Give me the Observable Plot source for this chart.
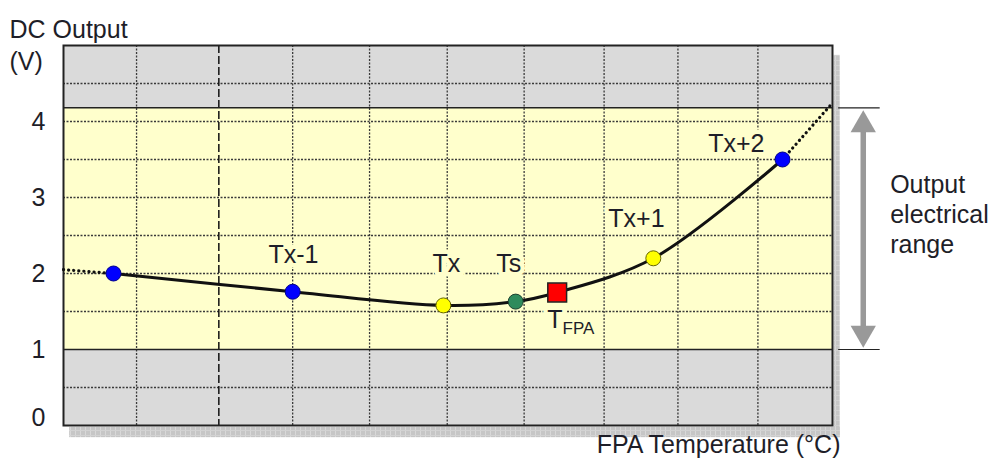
<!DOCTYPE html>
<html>
<head>
<meta charset="utf-8">
<script src="https://cdn.jsdelivr.net/npm/d3@7"></script>
<script src="https://cdn.jsdelivr.net/npm/@observablehq/plot@0.6"></script>
<style>
  html, body { margin: 0; padding: 0; background: #fff; }
  #chart { width: 995px; height: 465px; }
  svg { font-family: "Liberation Sans", Arial, sans-serif; }
</style>
</head>
<body>
<div id="chart"></div>
<script>
// ---- data ----
const temps = [0.65, 2.98, 4.94, 5.88, 6.42, 7.67, 9.35];
const volts = [2.00, 1.76, 1.58, 1.63, 1.75, 2.20, 3.50];
const kinds = ["blue", "blue", "yellow", "green", "red", "yellow", "blue"];

const leftExtX = [0, 0.65];
const leftExtY = [2.05, 2.00];
const rightExtX = [9.35, 9.97];
const rightExtY = [3.50, 4.21];

const labelText = ["Tx-1", "Tx", "Ts", "Tx+1", "Tx+2"];
const labelX = [2.99, 4.98, 5.79, 7.45, 8.75];
const labelY = [2.25, 2.12, 2.12, 2.72, 3.70];

const yTicks = [1, 2, 3, 4];
const yGrid = [0.5, 1.5, 2, 2.5, 3, 3.5, 4, 4.5];
const rangeLimits = [1, 4.18];
const xGrid = [0.95, 2.98, 3.98, 4.99, 5.99, 7.03, 7.99, 9.03];
const xGridDashed = [2.02];
const bandLo = [0, 1, 4.18];
const bandHi = [1, 4.18, 5];
const bandKind = ["out", "in", "out"];

// decorative shadow strips (data units)
const shadowX1 = [0.08, 10.02];
const shadowX2 = [10.1, 10.1];
const shadowY1 = [-0.16, -0.16];
const shadowY2 = [-0.026, 4.87];

// output range arrow (data units)
const arrowX = 10.40;
const arrowTop = 3.955, arrowBottom = 1.216;
const limitX1 = 10.08, limitX2 = 10.62;

const curve = temps.map((t, i) => ({x: t, y: volts[i], kind: kinds[i]}));
const leftExt = leftExtX.map((x, i) => ({x, y: leftExtY[i]}));
const rightExt = rightExtX.map((x, i) => ({x, y: rightExtY[i]}));
const labels = labelText.map((t, i) => ({t, x: labelX[i], y: labelY[i]}));
const bands = bandLo.map((lo, i) => ({lo, hi: bandHi[i], kind: bandKind[i]}));
const shadows = shadowX1.map((x1, i) => ({x1, x2: shadowX2[i], y1: shadowY1[i], y2: shadowY2[i]}));
const limits = rangeLimits.map(y => ({y, x1: limitX1, x2: limitX2}));

const fillOf = {blue: "#0000ff", yellow: "#ffff00", green: "#2e8b5c"};
const strokeOf = {blue: "#00008a", yellow: "#666600", green: "#1e4030"};
const txt = "#1e1e28";
const halo = "#ffffcc";
const fs = 25;

const chart = Plot.plot({
  width: 995,
  height: 465,
  marginLeft: 63,
  marginRight: 163,
  marginTop: 45,
  marginBottom: 40,
  x: {domain: [0, 10], axis: null},
  y: {domain: [0, 5], axis: null},
  style: {fontFamily: "Liberation Sans, Arial, sans-serif", background: "white"},
  marks: [
    // shadow
    Plot.rect(shadows, {x1: "x1", x2: "x2", y1: "y1", y2: "y2", fill: "url(#shadePattern)"}),
    // bands
    Plot.rect(bands, {x1: 0, x2: 10, y1: "lo", y2: "hi", fill: d => d.kind === "in" ? "#ffffcc" : "#dadada"}),
    // grids
    Plot.ruleY(yGrid, {stroke: "#3a3a3a", strokeWidth: 1.3, strokeDasharray: "2,1.5"}),
    Plot.ruleX(xGrid, {stroke: "#3a3a3a", strokeWidth: 1.3, strokeDasharray: "2,1.5"}),
    Plot.ruleX(xGridDashed, {stroke: "#111", strokeWidth: 1.5, strokeDasharray: "8,3"}),
    Plot.ruleY(rangeLimits, {stroke: "#222", strokeWidth: 1.5}),
    Plot.frame({stroke: "#222", strokeWidth: 2}),
    // labels (with box-like halo)
    Plot.text(labels, {x: "x", y: "y", text: "t", fontSize: fs, fill: txt, stroke: halo, strokeWidth: 9, strokeLinejoin: "round"}),
    Plot.text(["T"], {x: 6.29, y: 1.39, textAnchor: "start", fontSize: fs, fill: txt, stroke: halo, strokeWidth: 9}),
    Plot.text(["FPA"], {x: 6.49, y: 1.28, textAnchor: "start", fontSize: 17, fill: txt, stroke: halo, strokeWidth: 9}),
    // curve
    Plot.line(leftExt, {x: "x", y: "y", stroke: "#111", strokeWidth: 3.2, strokeDasharray: "0.1,5", strokeLinecap: "round"}),
    Plot.line(rightExt, {x: "x", y: "y", stroke: "#111", strokeWidth: 3.2, strokeDasharray: "0.1,5", strokeLinecap: "round"}),
    Plot.line(curve, {x: "x", y: "y", curve: "catmull-rom", stroke: "#111", strokeWidth: 3}),
    Plot.dot(curve.filter(d => d.kind !== "red"), {x: "x", y: "y", r: 7.5, fill: d => fillOf[d.kind], stroke: d => strokeOf[d.kind], strokeWidth: 1}),
    Plot.dot(curve.filter(d => d.kind === "red"), {x: "x", y: "y", symbol: "square", r: 10.6, fill: "#ff0000", stroke: "#222", strokeWidth: 1.5}),
    // y axis
    Plot.axisY(yTicks, {tickSize: 0, tickPadding: 18, fontSize: fs, fill: txt, tickFormat: d => String(d)}),
    Plot.axisY([0], {tickSize: 0, tickPadding: 18, fontSize: fs, fill: txt, dy: -8, tickFormat: d => String(d)}),
    // axis titles
    Plot.text(["DC Output"], {frameAnchor: "top-left", dx: -54, dy: -25, textAnchor: "start", fontSize: fs, fill: txt}),
    Plot.text(["(V)"], {frameAnchor: "top-left", dx: -54, dy: 7, textAnchor: "start", fontSize: fs, fill: txt}),
    Plot.text(["FPA Temperature (°C)"], {frameAnchor: "bottom-right", dx: 8, dy: 27, textAnchor: "end", fontSize: fs, fill: txt}),
    // output range annotation
    Plot.ruleY(limits, {y: "y", x1: "x1", x2: "x2", stroke: "#222", strokeWidth: 1.2}),
    Plot.ruleX([arrowX], {y1: arrowBottom, y2: arrowTop, stroke: "#999", strokeWidth: 5.5}),
    Plot.dot([arrowTop], {x: arrowX, y: d => d, symbol: "triangle", r: 9.4, fill: "#999", stroke: "none"}),
    Plot.dot([arrowBottom], {x: arrowX, y: d => d, symbol: "triangle", r: 9.4, fill: "#999", stroke: "none", rotate: 180}),
    Plot.text(["Output\nelectrical\nrange"], {x: 10.75, y: 2.79, textAnchor: "start", fontSize: fs, lineHeight: 1.2, fill: txt})
  ]
});

// pattern for the shadow strips
const ns = "http://www.w3.org/2000/svg";
const defs = document.createElementNS(ns, "defs");
defs.innerHTML = `<pattern id="shadePattern" width="5" height="5" patternUnits="userSpaceOnUse">
  <rect width="5" height="5" fill="#c6c6c6"/>
  <rect x="0" y="0" width="1" height="5" fill="#d8d8d8"/>
  <rect x="0" y="0" width="5" height="1" fill="#d2d2d2"/>
</pattern>`;
chart.insertBefore(defs, chart.firstChild);

document.getElementById("chart").appendChild(chart);
</script>
</body>
</html>
